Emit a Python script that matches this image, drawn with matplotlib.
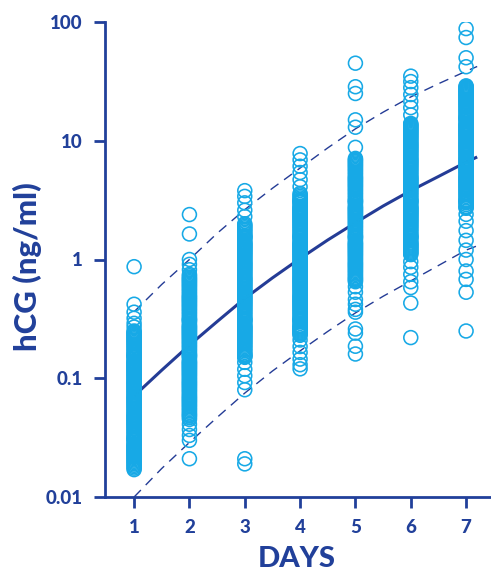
import matplotlib
matplotlib.use("Agg")
import matplotlib.pyplot as plt
import numpy as np

# ---------------- data ----------------
days = [1, 2, 3, 4, 5, 6, 7]

hcg_day1 = [0.017, 0.018, 0.019, 0.020, 0.021, 0.022, 0.023, 0.024, 0.025, 0.026, 0.027, 0.028,
            0.030, 0.031, 0.032, 0.034, 0.036, 0.038, 0.040, 0.042, 0.044, 0.046, 0.048, 0.050,
            0.053, 0.056, 0.059, 0.062, 0.065, 0.068, 0.071, 0.075, 0.079, 0.083, 0.087, 0.091,
            0.095, 0.10, 0.105, 0.11, 0.115, 0.12, 0.125, 0.13, 0.135, 0.14, 0.15, 0.155, 0.16,
            0.17, 0.18, 0.19, 0.20, 0.21, 0.22, 0.23, 0.24, 0.25,
            0.27, 0.29, 0.32, 0.36, 0.42, 0.87]
hcg_day2 = [0.021, 0.030, 0.033, 0.037, 0.041,
            0.045, 0.048, 0.050, 0.053, 0.056, 0.059, 0.062, 0.065, 0.068, 0.071, 0.075, 0.079,
            0.083, 0.087, 0.091, 0.095, 0.10, 0.105, 0.11, 0.115, 0.12, 0.125, 0.13, 0.135, 0.14,
            0.15, 0.155, 0.16, 0.17, 0.18, 0.19, 0.20, 0.21, 0.22, 0.23, 0.24, 0.25, 0.26, 0.27,
            0.28, 0.30, 0.31, 0.32, 0.34, 0.36, 0.38, 0.40, 0.42, 0.44, 0.46, 0.48, 0.50, 0.53,
            0.56, 0.59, 0.62, 0.65, 0.68, 0.71, 0.75,
            0.82, 0.91, 1.0, 1.64, 2.39]
hcg_day3 = [0.019, 0.021, 0.080, 0.092, 0.105, 0.119, 0.136,
            0.15, 0.155, 0.16, 0.17, 0.18, 0.19, 0.20, 0.21, 0.22, 0.23, 0.24, 0.25, 0.26, 0.27,
            0.28, 0.30, 0.31, 0.32, 0.34, 0.36, 0.38, 0.40, 0.42, 0.44, 0.46, 0.48, 0.50, 0.53,
            0.56, 0.59, 0.62, 0.65, 0.68, 0.71, 0.75, 0.79, 0.83, 0.87, 0.91, 0.95, 1.0, 1.05,
            1.1, 1.15, 1.2, 1.25, 1.3, 1.35, 1.4, 1.5, 1.55, 1.6, 1.7, 1.8, 1.9, 2.0,
            2.3, 2.6, 3.0, 3.4, 3.8]
hcg_day4 = [0.12, 0.13, 0.145, 0.165, 0.185, 0.21,
            0.23, 0.24, 0.25, 0.26, 0.27, 0.28, 0.30, 0.31, 0.32, 0.34, 0.36, 0.38, 0.40, 0.42,
            0.44, 0.46, 0.48, 0.50, 0.53, 0.56, 0.59, 0.62, 0.65, 0.68, 0.71, 0.75, 0.79, 0.83,
            0.87, 0.91, 0.95, 1.0, 1.05, 1.1, 1.15, 1.2, 1.25, 1.3, 1.35, 1.4, 1.5, 1.55, 1.6,
            1.7, 1.8, 1.9, 2.0, 2.1, 2.2, 2.3, 2.4, 2.5, 2.6, 2.7, 2.8, 3.0, 3.1, 3.2, 3.4, 3.6,
            4.1, 4.7, 5.4, 6.1, 6.9, 7.8]
hcg_day5 = [0.16, 0.186, 0.24, 0.26, 0.36, 0.38, 0.42, 0.46, 0.53, 0.59,
            0.65, 0.68, 0.71, 0.75, 0.79, 0.83, 0.87, 0.91, 0.95, 1.0, 1.05, 1.1, 1.15, 1.2,
            1.25, 1.3, 1.35, 1.4, 1.5, 1.55, 1.6, 1.7, 1.8, 1.9, 2.0, 2.1, 2.2, 2.3, 2.4, 2.5,
            2.6, 2.7, 2.8, 3.0, 3.1, 3.2, 3.4, 3.6, 3.8, 4.0, 4.2, 4.4, 4.6, 4.8, 5.0, 5.3, 5.6,
            5.9, 6.2, 6.5, 6.8, 7.1,
            8.8, 13.0, 15.0, 25.0, 28.5, 45.0]
hcg_day6 = [0.22, 0.43, 0.58, 0.65, 0.75, 0.86, 0.96,
            1.1, 1.15, 1.2, 1.25, 1.3, 1.35, 1.4, 1.5, 1.55, 1.6, 1.7, 1.8, 1.9, 2.0, 2.1, 2.2,
            2.3, 2.4, 2.5, 2.6, 2.7, 2.8, 3.0, 3.1, 3.2, 3.4, 3.6, 3.8, 4.0, 4.2, 4.4, 4.6, 4.8,
            5.0, 5.3, 5.6, 5.9, 6.2, 6.5, 6.8, 7.1, 7.5, 7.9, 8.3, 8.7, 9.1, 9.5, 10.0, 10.5,
            11.0, 11.5, 12.0, 12.5, 13.0, 13.5, 14.0,
            16.5, 19.0, 21.5, 24.5, 28.0, 31.5, 35.0]
hcg_day7 = [0.25, 0.53, 0.68, 0.80, 1.0, 1.2, 1.45, 1.75, 2.1, 2.4,
            2.7, 2.8, 3.0, 3.1, 3.2, 3.4, 3.6, 3.8, 4.0, 4.2, 4.4, 4.6, 4.8, 5.0, 5.3, 5.6, 5.9,
            6.2, 6.5, 6.8, 7.1, 7.5, 7.9, 8.3, 8.7, 9.1, 9.5, 10.0, 10.5, 11.0, 11.5, 12.0, 12.5,
            13.0, 13.5, 14.0, 15.0, 15.5, 16.0, 17.0, 18.0, 19.0, 20.0, 21.0, 22.0, 23.0, 24.0,
            25.0, 26.0, 27.0, 28.0, 29.0,
            42.0, 50.0, 74.0, 88.0]

# additional patients inside the dense bands (between the values above)
hcg_day1_more = [0.0175, 0.0185, 0.0195, 0.0205, 0.0215, 0.0225, 0.0235, 0.0245, 0.0255, 0.0265,
                 0.0275, 0.029, 0.0305, 0.0315, 0.033, 0.035, 0.037, 0.039, 0.041, 0.043, 0.045,
                 0.047, 0.049, 0.0515, 0.0545, 0.0575, 0.0605, 0.0635, 0.0665, 0.0695, 0.073,
                 0.077, 0.081, 0.085, 0.089, 0.093, 0.0975, 0.1025, 0.1075, 0.1125, 0.1175,
                 0.1225, 0.1275, 0.1325, 0.1375, 0.145, 0.1525, 0.1575, 0.165, 0.175, 0.185,
                 0.195, 0.205, 0.215, 0.225, 0.235, 0.245]
hcg_day2_more = [0.0465, 0.049, 0.0515, 0.0545, 0.0575, 0.0605, 0.0635, 0.0665, 0.0695, 0.073,
                 0.077, 0.081, 0.085, 0.089, 0.093, 0.0975, 0.1025, 0.1075, 0.1125, 0.1175,
                 0.1225, 0.1275, 0.1325, 0.1375, 0.145, 0.1525, 0.1575, 0.165, 0.175, 0.185,
                 0.195, 0.205, 0.215, 0.225, 0.235, 0.245, 0.255, 0.265, 0.275, 0.29, 0.305,
                 0.315, 0.33, 0.35, 0.37, 0.39, 0.41, 0.43, 0.45, 0.47, 0.49, 0.515, 0.545,
                 0.575, 0.605, 0.635, 0.665, 0.695, 0.73]
hcg_day3_more = [0.1525, 0.1575, 0.165, 0.175, 0.185, 0.195, 0.205, 0.215, 0.225, 0.235, 0.245,
                 0.255, 0.265, 0.275, 0.29, 0.305, 0.315, 0.33, 0.35, 0.37, 0.39, 0.41, 0.43,
                 0.45, 0.47, 0.49, 0.515, 0.545, 0.575, 0.605, 0.635, 0.665, 0.695, 0.73, 0.77,
                 0.81, 0.85, 0.89, 0.93, 0.975, 1.025, 1.075, 1.125, 1.175, 1.225, 1.275, 1.325,
                 1.375, 1.45, 1.525, 1.575, 1.65, 1.75, 1.85, 1.95]
hcg_day4_more = [0.235, 0.245, 0.255, 0.265, 0.275, 0.29, 0.305, 0.315, 0.33, 0.35, 0.37, 0.39,
                 0.41, 0.43, 0.45, 0.47, 0.49, 0.515, 0.545, 0.575, 0.605, 0.635, 0.665, 0.695,
                 0.73, 0.77, 0.81, 0.85, 0.89, 0.93, 0.975, 1.025, 1.075, 1.125, 1.175, 1.225,
                 1.275, 1.325, 1.375, 1.45, 1.525, 1.575, 1.65, 1.75, 1.85, 1.95, 2.05, 2.15,
                 2.25, 2.35, 2.45, 2.55, 2.65, 2.75, 2.9, 3.05, 3.15, 3.3, 3.5]
hcg_day5_more = [0.665, 0.695, 0.73, 0.77, 0.81, 0.85, 0.89, 0.93, 0.975, 1.025, 1.075, 1.125,
                 1.175, 1.225, 1.275, 1.325, 1.375, 1.45, 1.525, 1.575, 1.65, 1.75, 1.85, 1.95,
                 2.05, 2.15, 2.25, 2.35, 2.45, 2.55, 2.65, 2.75, 2.9, 3.05, 3.15, 3.3, 3.5, 3.7,
                 3.9, 4.1, 4.3, 4.5, 4.7, 4.9, 5.15, 5.45, 5.75, 6.05, 6.35, 6.65, 6.95]
hcg_day6_more = [1.125, 1.175, 1.225, 1.275, 1.325, 1.375, 1.45, 1.525, 1.575, 1.65, 1.75, 1.85,
                 1.95, 2.05, 2.15, 2.25, 2.35, 2.45, 2.55, 2.65, 2.75, 2.9, 3.05, 3.15, 3.3, 3.5,
                 3.7, 3.9, 4.1, 4.3, 4.5, 4.7, 4.9, 5.15, 5.45, 5.75, 6.05, 6.35, 6.65, 6.95, 7.3,
                 7.7, 8.1, 8.5, 8.9, 9.3, 9.75, 10.25, 10.75, 11.25, 11.75, 12.25, 12.75, 13.25,
                 13.75]
hcg_day7_more = [2.75, 2.9, 3.05, 3.15, 3.3, 3.5, 3.7, 3.9, 4.1, 4.3, 4.5, 4.7, 4.9, 5.15, 5.45,
                 5.75, 6.05, 6.35, 6.65, 6.95, 7.3, 7.7, 8.1, 8.5, 8.9, 9.3, 9.75, 10.25, 10.75,
                 11.25, 11.75, 12.25, 12.75, 13.25, 13.75, 14.5, 15.25, 15.75, 16.5, 17.5, 18.5,
                 19.5, 20.5, 21.5, 22.5, 23.5, 24.5, 25.5, 26.5, 27.5, 28.5]

hcg_by_day = [hcg_day1 + hcg_day1_more, hcg_day2 + hcg_day2_more, hcg_day3 + hcg_day3_more,
              hcg_day4 + hcg_day4_more, hcg_day5 + hcg_day5_more, hcg_day6 + hcg_day6_more,
              hcg_day7 + hcg_day7_more]

# fitted curves
curve_days = [1.0, 1.5, 2.0, 2.5, 3.0, 3.5, 4.0, 4.5, 5.0, 5.5, 6.0, 6.5, 7.0, 7.2]
curve_mean = [0.071, 0.117, 0.19, 0.30, 0.47, 0.70, 1.02, 1.46, 2.04, 2.82, 3.8, 5.0, 6.6, 7.3]
curve_upper = [0.363, 0.617, 1.0, 1.66, 2.63, 3.98, 5.89, 8.71, 12.6, 17.4, 23.4, 30.2, 38.5, 42.2]
lower_days = [1.0, 1.5, 2.0, 2.5, 3.0, 3.5, 4.0, 4.5, 5.0, 5.5, 6.0, 6.5, 7.0, 7.25]
curve_lower = [0.0100, 0.0174, 0.0288, 0.0468, 0.075, 0.115, 0.17, 0.248, 0.355, 0.49, 0.66, 0.89, 1.2, 1.33]

y_ticks = [0.01, 0.1, 1, 10, 100]
y_tick_labels = ["0.01", "0.1", "1", "10", "100"]

# ---------------- style ----------------
navy = "#21409a"
cyan = "#17a9e6"
font = "Lato"

fig = plt.figure(figsize=(4.91, 5.71), dpi=100)
ax = fig.add_axes([105 / 491, 74 / 571, 386 / 491, 475 / 571])

ax.plot(curve_days, curve_mean, color="#243c96", lw=2.2, zorder=2, solid_capstyle="butt")
ax.plot(curve_days, curve_upper, color="#243c96", lw=1.0, dashes=(7, 5), zorder=2)
ax.plot(lower_days, curve_lower, color="#243c96", lw=1.0, dashes=(7, 5), zorder=2)

for d, vals in zip(days, hcg_by_day):
    ax.scatter([d] * len(vals), vals, s=100, facecolors="none", edgecolors=cyan,
               linewidths=1.15, zorder=3)

ax.set_yscale("log")
ax.set_ylim(0.01, 100)
ax.set_xlim(0.474, 7.45)
ax.set_xticks(days)
ax.set_xticklabels([str(d) for d in days])
ax.set_yticks(y_ticks)
ax.set_yticklabels(y_tick_labels)
ax.yaxis.set_minor_locator(matplotlib.ticker.NullLocator())

for s in ["top", "right"]:
    ax.spines[s].set_visible(False)
for s in ["left", "bottom"]:
    ax.spines[s].set_color(navy)
    ax.spines[s].set_linewidth(2.0)

ax.tick_params(axis="both", colors=navy, width=2.0, length=8, labelsize=13.5)
ax.tick_params(axis="x", pad=8)
ax.tick_params(axis="y", pad=8)
for lab in ax.get_xticklabels() + ax.get_yticklabels():
    lab.set_fontweight("black")
    lab.set_fontfamily(font)
    lab.set_color(navy)

fig.text(27 / 491, 1 - 267 / 571, "hCG (ng/ml)", rotation=90, ha="center", va="center",
         fontsize=22.5, fontweight="black", color=navy, family=font)
fig.text(297 / 491, 1 - 559 / 571, "DAYS", ha="center", va="center",
         fontsize=21, fontweight="black", color=navy, family=font)

fig.savefig("out.png", dpi=100)
